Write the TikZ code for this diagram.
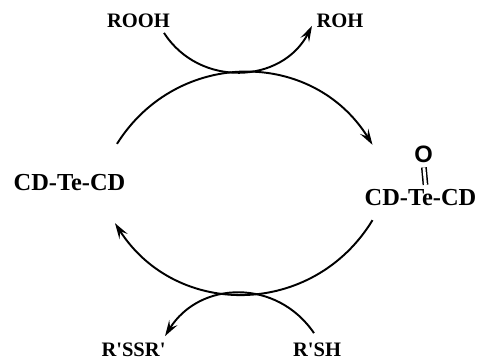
\documentclass[tikz,border=0pt]{standalone}
\usepackage{fontspec}
\setmainfont{Liberation Serif}
\newfontfamily\speciesfont{Liberation Serif}
\newfontfamily\oxofont{Liberation Sans}
\usetikzlibrary{arrows.meta}

\begin{document}
\begin{tikzpicture}[x=0.02cm, y=0.02cm, line width=1.1pt,
    >={Stealth[length=9pt, width=5.5pt, inset=3.5pt]},
    species/.style={inner sep=0pt, font=\speciesfont\bfseries\fontsize{11.7}{14}\selectfont},
    state/.style={inner sep=0pt, font=\bfseries\fontsize{13.9}{16}\selectfont},
    oxo/.style={inner sep=0pt, font=\oxofont\bfseries\fontsize{13.5}{16}\selectfont}]
  % x-coordinate = image pixel, y-coordinate = 359 - image pixel
  \useasboundingbox (0,0) rectangle (480,359);
  \node[species] (rooh) at (138.5,338) {ROOH};
  \node[species] (roh) at (340,338) {ROH};
  \node[species] (rssr) at (133.5,9) {R'SSR'};
  \node[species] (rsh) at (317,9) {R'SH};
  \node[state] (cdte) at (69.5,176) {CD-Te-CD};
  \node[state] (cdteo) at (420.5,161) {CD-Te-CD};
  \node[oxo] (oxygen) at (423.5,205) {O};
  \draw[->] ([shift={(47.5,30)}]cdte.north) to[bend left=58, looseness=1.13] ([shift={(-48,44)}]cdteo.north);
  \draw[->] ([shift={(-48,-13)}]cdteo.south) to[bend left=58, looseness=1.13] ([shift={(45.5,-31)}]cdte.south);
  \draw[->] ([shift={(25.5,-4)}]rooh.south) to[bend right=60, looseness=1.13] ([shift={(-28,3)}]roh.south);
  \draw[->] ([shift={(-3,9)}]rsh.north) to[bend right=57, looseness=1.13] ([shift={(31.5,6)}]rssr.north);
  \draw[line width=0.85pt, double, double distance=1.6pt] ([shift={(0.4,-4)}]oxygen.south) -- ([shift={(5,4)}]cdteo.north);
\end{tikzpicture}
\end{document}
